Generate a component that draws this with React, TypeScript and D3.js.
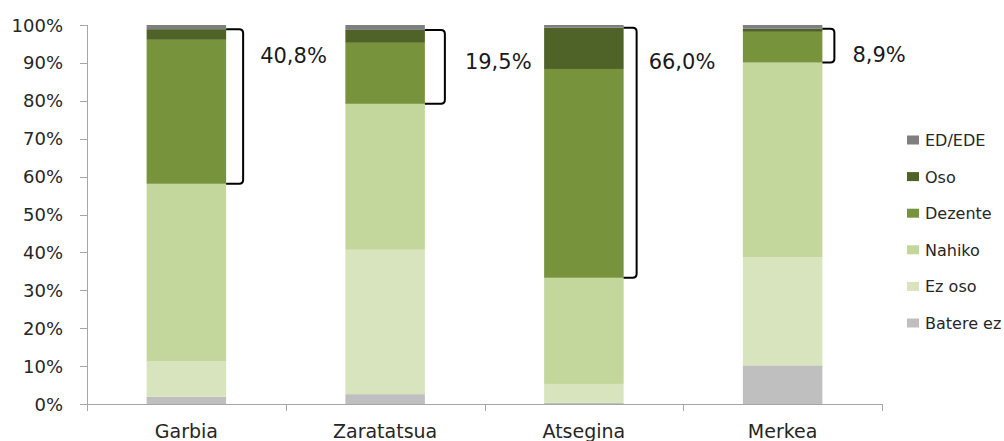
import React, { useEffect, useRef } from "react";
import * as d3 from "d3";

// categories and series (percent shares, stacked bottom -> top)
const categories = ["Garbia", "Zaratatsua", "Atsegina", "Merkea"];
const seriesNames = ["Batere ez", "Ez oso", "Nahiko", "Dezente", "Oso", "ED/EDE"];
const bateraEz = [1.9, 2.6, 0.3, 10.2];
const ezOso = [9.4, 38.1, 5.0, 28.5];
const nahiko = [46.8, 38.5, 28.0, 51.4];
const dezente = [38.0, 16.1, 55.1, 8.1];
const oso = [2.8, 3.4, 10.9, 0.8];
const edEde = [1.1, 1.3, 0.7, 1.0];
const bracketLabels = ["40,8%", "19,5%", "66,0%", "8,9%"];
const yTicks = [0, 10, 20, 30, 40, 50, 60, 70, 80, 90, 100];

const colors = ["#bfbfbf", "#d7e4bd", "#c3d69b", "#77933c", "#4f6228", "#7f7f7f"];

// annotation layout (bracket width, label offset, label baseline)
const bracketW = [17, 20, 13, 12];
const labelDx = [34, 40, 25, 30];
const labelY = [63, 69, 69, 62];

const FONT = "'DejaVu Sans', sans-serif";

const App: React.FC = () => {
  const svgRef = useRef<SVGSVGElement>(null);

  useEffect(() => {
    if (!svgRef.current) return;
    const svg = d3.select(svgRef.current);
    svg.selectAll("*").remove();

    const left = 87;
    const right = 882;
    const top = 25;
    const bottom = 404;

    const x = d3
      .scaleBand<string>()
      .domain(categories)
      .range([left, right])
      .paddingInner(0.6)
      .paddingOuter(0.3);
    const y = d3.scaleLinear().domain([0, 100]).range([bottom, top]);

    const seriesVals = [bateraEz, ezOso, nahiko, dezente, oso, edEde];
    const rows = categories.map((c, i) => {
      const r: any = { cat: c };
      seriesNames.forEach((s, k) => (r[s] = seriesVals[k][i]));
      return r;
    });
    const stacked = d3.stack<any>().keys(seriesNames)(rows);

    // bars
    stacked.forEach((layer, k) => {
      svg
        .append("g")
        .selectAll("rect")
        .data(layer)
        .enter()
        .append("rect")
        .attr("x", (d) => x(d.data.cat) || 0)
        .attr("width", x.bandwidth())
        .attr("y", (d) => y(d[1]))
        .attr("height", (d) => Math.max(0, y(d[0]) - y(d[1])))
        .attr("fill", colors[k]);
    });

    // y axis
    const axisColor = "#a6a6a6";
    svg
      .append("line")
      .attr("x1", left + 0.5)
      .attr("x2", left + 0.5)
      .attr("y1", top)
      .attr("y2", bottom)
      .attr("stroke", axisColor);
    yTicks.forEach((t) => {
      svg
        .append("line")
        .attr("x1", left - 7)
        .attr("x2", left)
        .attr("y1", Math.round(y(t)) + 0.5)
        .attr("y2", Math.round(y(t)) + 0.5)
        .attr("stroke", axisColor);
      svg
        .append("text")
        .attr("x", 63)
        .attr("y", y(t) + 6.5)
        .attr("text-anchor", "end")
        .style("font-family", FONT)
        .style("font-size", "18px")
        .style("fill", "#262626")
        .text(`${t}%`);
    });

    // x axis
    svg
      .append("line")
      .attr("x1", left)
      .attr("x2", right)
      .attr("y1", bottom + 0.5)
      .attr("y2", bottom + 0.5)
      .attr("stroke", axisColor);
    const step = x.step();
    d3.range(categories.length + 1).forEach((i) => {
      const tx = Math.round(left + i * step) + 0.5;
      svg
        .append("line")
        .attr("x1", tx)
        .attr("x2", tx)
        .attr("y1", bottom)
        .attr("y2", bottom + 7)
        .attr("stroke", axisColor);
    });
    categories.forEach((c) => {
      svg
        .append("text")
        .attr("x", (x(c) || 0) + x.bandwidth() / 2)
        .attr("y", 438)
        .attr("text-anchor", "middle")
        .style("font-family", FONT)
        .style("font-size", "19px")
        .style("fill", "#262626")
        .text(c);
    });

    // brackets over Dezente + Oso
    const dez = stacked[3];
    const os = stacked[4];
    categories.forEach((c, i) => {
      const x0 = (x(c) || 0) + x.bandwidth();
      const x1 = x0 + bracketW[i];
      const yT = y(os[i][1]);
      const yB = y(dez[i][0]);
      const r = 4;
      const p = d3.path();
      p.moveTo(x0, yT);
      p.lineTo(x1 - r, yT);
      p.quadraticCurveTo(x1, yT, x1, yT + r);
      p.lineTo(x1, yB - r);
      p.quadraticCurveTo(x1, yB, x1 - r, yB);
      p.lineTo(x0, yB);
      svg
        .append("path")
        .attr("d", p.toString())
        .attr("fill", "none")
        .attr("stroke", "#000")
        .attr("stroke-width", 2);
      svg
        .append("text")
        .attr("x", x0 + labelDx[i])
        .attr("y", labelY[i])
        .style("font-family", FONT)
        .style("font-size", "21px")
        .style("fill", "#1a1a1a")
        .text(bracketLabels[i]);
    });

    // legend (top -> bottom is reverse of stack)
    const legendItems = seriesNames.map((s, k) => ({ s, color: colors[k] })).reverse();
    const lg = svg.append("g");
    legendItems.forEach((d, i) => {
      const cy = 140 + i * 36.6;
      lg.append("rect")
        .attr("x", 907)
        .attr("y", cy - 4.5)
        .attr("width", 12)
        .attr("height", 9)
        .attr("fill", d.color);
      lg.append("text")
        .attr("x", 925)
        .attr("y", cy + 6)
        .style("font-family", FONT)
        .style("font-size", "16px")
        .style("fill", "#262626")
        .text(d.s);
    });
  }, []);

  return (
    <svg
      ref={svgRef}
      width={1004}
      height={441}
      style={{ position: "absolute", left: 0, top: 0, background: "#fff" }}
    ></svg>
  );
};

export default App;
